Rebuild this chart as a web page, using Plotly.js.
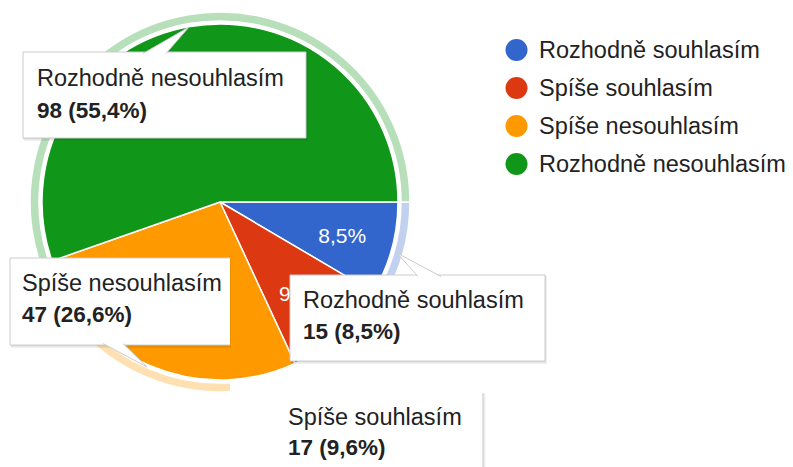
<!DOCTYPE html>
<html>
<head>
<meta charset="utf-8">
<script src="https://cdn.plot.ly/plotly-3.0.1.min.js"></script>
<style>
html,body{margin:0;padding:0;background:#fff;}
#chart{width:793px;height:467px;}
</style>
</head>
<body>
<div id="chart"></div>
<script>
// ---- data ----
const categories = ['Rozhodně souhlasím', 'Spíše souhlasím', 'Spíše nesouhlasím', 'Rozhodně nesouhlasím'];
const counts = [15, 17, 47, 98];
const colors = ['#3366cc', '#dc3912', '#ff9900', '#109618'];
const ringColors = ['#c3d1f0', 'rgba(0,0,0,0)', '#ffe0b3', '#b7dfb9'];

// ---- helpers ----
const W = 793, H = 467;
const X = px => px / W;
const Y = py => 1 - py / H;
const total = counts.reduce((a, b) => a + b, 0);
const pctText = counts.map(v => (v / total * 100).toFixed(1).replace('.', ',') + '%');
const FONT = 'Arial, "Liberation Sans", sans-serif';
const TXT = '#222222';
const BORDER = '#cccccc';
const FS = 23.5, FSB = 22.5;

// pie geometry
const cx = 220, cy = 202, R = 178, RR = 190, RH = 181, RT = 160;

const pieCommon = {
  type: 'pie',
  labels: categories,
  values: counts,
  sort: false,
  direction: 'clockwise',
  rotation: 90,
  showlegend: false,
  hoverinfo: 'none'
};

const ringPie = Object.assign({}, pieCommon, {
  textinfo: 'none',
  hole: RH / RR,
  marker: {colors: ringColors, line: {color: '#ffffff', width: 1.5}},
  domain: {x: [X(cx - RR), X(cx + RR)], y: [Y(cy + RR), Y(cy - RR)]}
});

const mainPie = Object.assign({}, pieCommon, {
  textinfo: 'none',
  marker: {colors: colors, line: {color: '#ffffff', width: 1.5}},
  domain: {x: [X(cx - R), X(cx + R)], y: [Y(cy + R), Y(cy - R)]}
});

// transparent pie that only carries the percentage labels (placed a little nearer the centre)
const textPie = Object.assign({}, pieCommon, {
  text: pctText,
  textinfo: 'text',
  textposition: 'inside',
  insidetextorientation: 'horizontal',
  insidetextfont: {family: FONT, size: 21, color: '#ffffff'},
  marker: {colors: ['rgba(0,0,0,0)', 'rgba(0,0,0,0)', 'rgba(0,0,0,0)', 'rgba(0,0,0,0)'], line: {width: 0}},
  domain: {x: [X(cx - RT), X(cx + RT)], y: [Y(cy + RT), Y(cy - RT)]}
});

// ---- tooltip boxes ----
const shapes = [];
const annotations = [];

function shadow(x0, y0, x1, y1) {
  shapes.push({type: 'rect', xref: 'paper', yref: 'paper', layer: 'above',
    x0: X(x0 + 1), x1: X(x1 + 2), y0: Y(y0 + 1), y1: Y(y1 + 3),
    fillcolor: 'rgba(0,0,0,0.06)', line: {width: 0}});
  shapes.push({type: 'rect', xref: 'paper', yref: 'paper', layer: 'above',
    x0: X(x0), x1: X(x1 + 1), y0: Y(y0), y1: Y(y1 + 1.5),
    fillcolor: 'rgba(0,0,0,0.08)', line: {width: 0}});
}
function box(x0, y0, x1, y1) {
  shadow(x0, y0, x1, y1);
  shapes.push({type: 'rect', xref: 'paper', yref: 'paper', layer: 'above',
    x0: X(x0), x1: X(x1), y0: Y(y0), y1: Y(y1),
    fillcolor: '#ffffff', line: {color: BORDER, width: 1}});
}
function pointer(b1x, b1y, tx, ty, b2x, b2y) {
  shapes.push({type: 'path', xref: 'paper', yref: 'paper', layer: 'above',
    path: 'M' + X(b1x) + ',' + Y(b1y) + ' L' + X(tx) + ',' + Y(ty) + ' L' + X(b2x) + ',' + Y(b2y),
    fillcolor: '#ffffff', line: {color: BORDER, width: 1}});
}
function label(x, y, txt, bold) {
  annotations.push({xref: 'paper', yref: 'paper', x: X(x), y: Y(y), xanchor: 'left', yanchor: 'middle',
    showarrow: false, text: bold ? '<b>' + txt + '</b>' : txt,
    font: {family: FONT, size: bold ? FSB : FS, color: TXT}});
}
const valueText = i => counts[i] + ' (' + pctText[i] + ')';

// Spíše souhlasím (index 1) - mostly clipped; its white area hides the halo ring right of x=230
(function () {
  const rc = 180.2;
  const a0 = Math.acos((230 - cx) / rc);
  const a1 = 58 * Math.PI / 180;
  let p = 'M' + X(230) + ',' + Y(467);
  const n = 24;
  for (let k = 0; k <= n; k++) {
    const a = a0 + (a1 - a0) * k / n;
    p += ' L' + X(cx + rc * Math.cos(a)) + ',' + Y(cy + rc * Math.sin(a));
  }
  p += ' L' + X(483) + ',' + Y(cy + rc * Math.sin(a1)) + ' L' + X(483) + ',' + Y(467) + ' Z';
  shapes.push({type: 'path', xref: 'paper', yref: 'paper', layer: 'above', path: p,
    fillcolor: '#ffffff', line: {width: 0}});
})();
shapes.push({type: 'line', xref: 'paper', yref: 'paper', layer: 'above',
  x0: X(484.5), x1: X(484.5), y0: Y(394), y1: Y(467), line: {color: 'rgba(0,0,0,0.07)', width: 2}});
shapes.push({type: 'line', xref: 'paper', yref: 'paper', layer: 'above',
  x0: X(483), x1: X(483), y0: Y(393), y1: Y(467), line: {color: BORDER, width: 1.2}});
label(286, 417, categories[1], false);
label(286, 447, valueText(1), true);

// Rozhodně nesouhlasím (index 3)
box(23, 52, 306, 138);
pointer(143, 53.5, 189, 27, 166, 53.5);
label(35, 78, categories[3], false);
label(35, 110, valueText(3), true);

// Spíše nesouhlasím (index 2) - right side clipped
shadow(10, 258, 229, 345);
shapes.push({type: 'rect', xref: 'paper', yref: 'paper', layer: 'above',
  x0: X(10), x1: X(230), y0: Y(258), y1: Y(345), fillcolor: '#ffffff', line: {width: 0}});
shapes.push({type: 'path', xref: 'paper', yref: 'paper', layer: 'above',
  path: 'M' + X(230) + ',' + Y(258) + ' L' + X(10) + ',' + Y(258) + ' L' + X(10) + ',' + Y(345) + ' L' + X(230) + ',' + Y(345),
  fillcolor: 'rgba(0,0,0,0)', line: {color: BORDER, width: 1}});
pointer(103, 343.5, 147, 367, 123, 343.5);
label(20, 283, categories[2], false);
label(20, 314, valueText(2), true);

// Rozhodně souhlasím (index 0)
box(290, 275, 545, 361);
pointer(418, 276.5, 397, 253, 441, 276.5);
label(301, 300, categories[0], false);
label(301, 331, valueText(0), true);

// ---- legend ----
const legendY = [50, 88, 126, 164];
categories.forEach((c, i) => {
  shapes.push({type: 'circle', xref: 'paper', yref: 'paper', layer: 'above',
    x0: X(505.5), x1: X(527.5), y0: Y(legendY[i] - 11), y1: Y(legendY[i] + 11),
    fillcolor: colors[i], line: {width: 0}});
  annotations.push({xref: 'paper', yref: 'paper', x: X(537), y: Y(legendY[i]), xanchor: 'left', yanchor: 'middle',
    showarrow: false, text: c, font: {family: FONT, size: FS, color: TXT}});
});

const layout = {
  width: W, height: H,
  margin: {l: 0, r: 0, t: 0, b: 0},
  paper_bgcolor: '#ffffff',
  plot_bgcolor: '#ffffff',
  showlegend: false,
  shapes: shapes,
  annotations: annotations
};

Plotly.newPlot('chart', [ringPie, mainPie, textPie], layout, {displayModeBar: false, staticPlot: true});
</script>
</body>
</html>
